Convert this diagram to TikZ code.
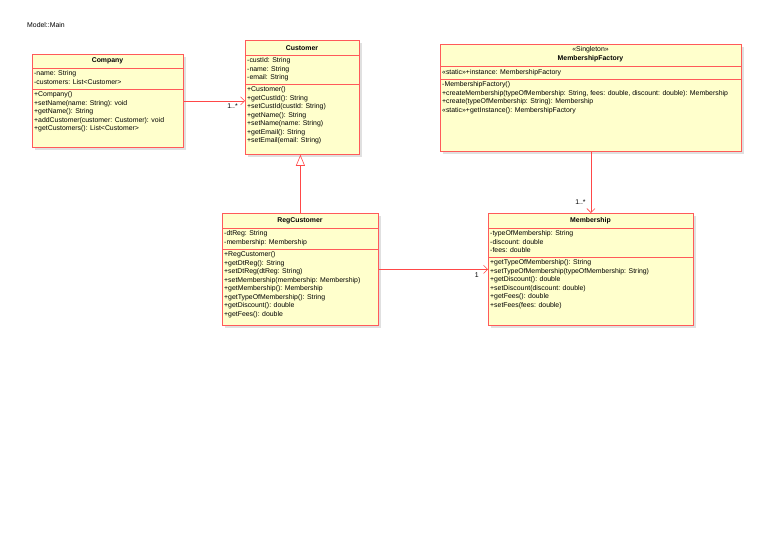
\documentclass[tikz,border=0pt]{standalone}
\usepackage{fontspec}
\setmainfont{Liberation Sans}
\usetikzlibrary{arrows.meta,shadows}
\definecolor{clsred}{HTML}{FF5A5A}
\definecolor{clsfill}{HTML}{FFFFCC}
\definecolor{linkred}{HTML}{FF4848}
\begin{document}
\begin{tikzpicture}[x=1pt,y=-1pt]
\tikzstyle{cls}=[draw=clsred,fill=clsfill,anchor=north west,inner sep=0,line width=0.8pt,
  drop shadow={shadow xshift=2.5pt,shadow yshift=-2.5pt,fill=black,opacity=0.12}];
\tikzstyle{sep}=[draw=clsred,line width=0.8pt];
\tikzstyle{title}=[inner sep=0,font=\fontsize{6.9}{8}\selectfont\bfseries];
\tikzstyle{stereo}=[inner sep=0,font=\fontsize{6.9}{8}\selectfont];
\tikzstyle{txt}=[anchor=north west,inner sep=0,align=left,font=\fontsize{6.9}{8.5}\selectfont];
\tikzstyle{mult}=[inner sep=0,font=\fontsize{6.9}{8}\selectfont];
\tikzstyle{assoc}=[draw=linkred,line width=0.6pt,-{Straight Barb[length=4pt,width=8pt]}];
\tikzstyle{gen}=[draw=linkred,line width=0.6pt,-{Triangle[open,length=11pt,width=9pt,fill=white]}];
\path [fill=white] (0,0) rectangle (768,543);
\useasboundingbox (0,0) rectangle (768,543);

\node [stereo,anchor=west] (model) at (27,25) {Model::Main};

% Company
\node [cls,minimum width=151pt,minimum height=93pt] (company) at (32,54) {};
\draw [sep] (32,68) -- (183,68);
\draw [sep] (32,89) -- (183,89);
\node [title] (company-t) at (107.5,61) {Company};
\node [txt] (company-a) at (34,70.5) {-name: String\\-customers: List<Customer>};
\node [txt] (company-m) at (34,91.5) {+Company()\\+setName(name: String): void\\+getName(): String\\+addCustomer(customer: Customer): void\\+getCustomers(): List<Customer>};

% Customer
\node [cls,minimum width=114pt,minimum height=114pt] (customer) at (245,40) {};
\draw [sep] (245,55) -- (359,55);
\draw [sep] (245,84) -- (359,84);
\node [title] (customer-t) at (302,48) {Customer};
\node [txt] (customer-a) at (247,57.5) {-custId: String\\-name: String\\-email: String};
\node [txt] (customer-m) at (247,86.5) {+Customer()\\+getCustId(): String\\+setCustId(custId: String)\\+getName(): String\\+setName(name: String)\\+getEmail(): String\\+setEmail(email: String)};

% MembershipFactory
\node [cls,minimum width=301pt,minimum height=107pt] (factory) at (440,44) {};
\draw [sep] (440,66) -- (741,66);
\draw [sep] (440,79) -- (741,79);
\node [stereo] (factory-s) at (590.5,50) {«Singleton»};
\node [title] (factory-t) at (590.5,59) {MembershipFactory};
\node [txt] (factory-a) at (442,69.5) {«static»+instance: MembershipFactory};
\node [txt] (factory-m) at (442,81.5) {-MembershipFactory()\\+createMembership(typeOfMembership: String, fees: double, discount: double): Membership\\+create(typeOfMembership: String): Membership\\«static»+getInstance(): MembershipFactory};

% RegCustomer
\node [cls,minimum width=156pt,minimum height=112pt] (regcust) at (222,213) {};
\draw [sep] (222,228) -- (378,228);
\draw [sep] (222,249) -- (378,249);
\node [title] (regcust-t) at (300,221) {RegCustomer};
\node [txt] (regcust-a) at (224,230.5) {-dtReg: String\\-membership: Membership};
\node [txt] (regcust-m) at (224,251.5) {+RegCustomer()\\+getDtReg(): String\\+setDtReg(dtReg: String)\\+setMembership(membership: Membership)\\+getMembership(): Membership\\+getTypeOfMembership(): String\\+getDiscount(): double\\+getFees(): double};

% Membership
\node [cls,minimum width=205pt,minimum height=112pt] (membership) at (488,213) {};
\draw [sep] (488,228) -- (693,228);
\draw [sep] (488,257) -- (693,257);
\node [title] (membership-t) at (590.5,221) {Membership};
\node [txt] (membership-a) at (490,230.5) {-typeOfMembership: String\\-discount: double\\-fees: double};
\node [txt] (membership-m) at (490,259.5) {+getTypeOfMembership(): String\\+setTypeOfMembership(typeOfMembership: String)\\+getDiscount(): double\\+setDiscount(discount: double)\\+getFees(): double\\+setFees(fees: double)};

% links
\draw [assoc] (company.east) -- (company.east -| customer.west)
  node [mult,pos=1,anchor=north east,xshift=-7pt,yshift=-3pt] (m1) {1..*};
\draw [gen] (regcust.north) -- (regcust.north |- customer.south);
\draw [assoc] (factory.south) -- (membership.north)
  node [mult,pos=1,anchor=south east,xshift=-5pt,yshift=8pt] (m2) {1..*};
\draw [assoc] (regcust.east) -- (membership.west)
  node [mult,pos=1,anchor=north east,xshift=-9pt,yshift=-3pt] (m3) {1};
\end{tikzpicture}
\end{document}
